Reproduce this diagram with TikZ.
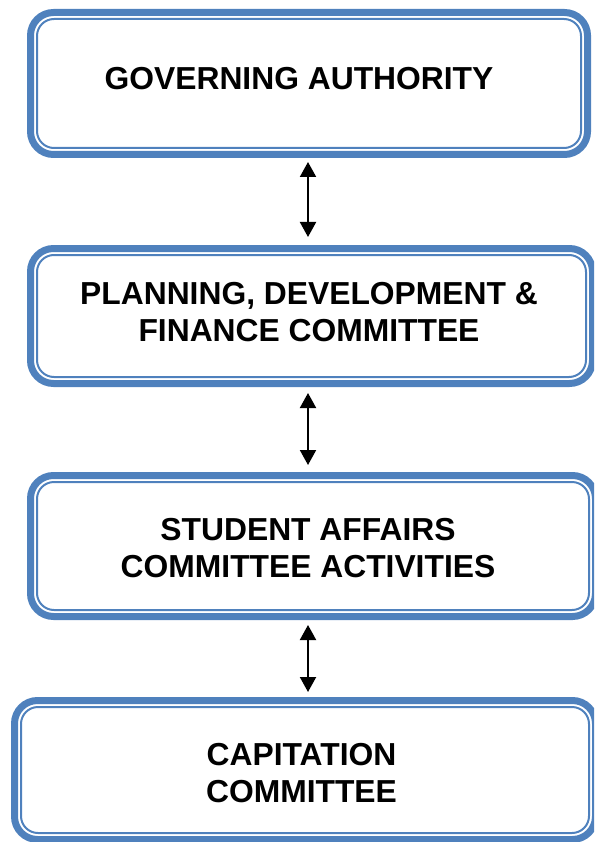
\documentclass[tikz,border=0pt]{standalone}
\usepackage{fontspec}
\setmainfont{Liberation Sans}
\usetikzlibrary{arrows.meta}
\definecolor{bandblue}{HTML}{4F81BD}
\newcommand\orgbox[5]{%
  \draw[band] (#2+3.5,#3+3.5) rectangle (#4-3.5,#5-3.5);
  \node[innerbox, minimum width={#4-#2-20}, minimum height={#5-#3-20}] (#1) at ({(#2+#4)/2},{(#3+#5)/2}) {};
}
\begin{document}
\begin{tikzpicture}[x=1pt,y=-1pt,
  band/.style={draw=bandblue, line width=7pt, rounded corners=23pt},
  innerbox/.style={draw=bandblue, line width=2pt, rounded corners=17pt, inner sep=0pt, outer sep=0pt},
  boxtext/.style={font=\bfseries\fontsize{31.8}{37}\selectfont, align=center, inner sep=0pt},
  link/.style={line width=2pt, {Triangle[width=16pt,length=15pt]}-{Triangle[width=16pt,length=15pt]}}
]
\useasboundingbox (0,0) rectangle (594,842);
\clip (0,0) rectangle (594,842);

\orgbox{b1}{27}{9}{591}{158}
\orgbox{b2}{27}{245}{596}{387}
\orgbox{b3}{27}{472}{599}{620}
\orgbox{b4}{11}{697}{599}{843}

\node[boxtext] (t1) at (299,79) {GOVERNING AUTHORITY};
\node[boxtext] (t2) at (309,312.5) {PLANNING, DEVELOPMENT \&\\FINANCE COMMITTEE};
\node[boxtext] (t3) at (308,548) {STUDENT AFFAIRS\\COMMITTEE ACTIVITIES};
\node[boxtext] (t4) at (301.5,773.5) {CAPITATION\\COMMITTEE};

\draw[link, shorten <=14pt, shorten >=18pt] ([xshift=-1pt]b1.south) -- ([xshift=-3.5pt]b2.north);
\draw[link, shorten <=16pt, shorten >=17pt] ([xshift=-3.5pt]b2.south) -- ([xshift=-5pt]b3.north);
\draw[link, shorten <=15pt, shorten >=15pt] ([xshift=-5pt]b3.south) -- ([xshift=3pt]b4.north);
\end{tikzpicture}
\end{document}
